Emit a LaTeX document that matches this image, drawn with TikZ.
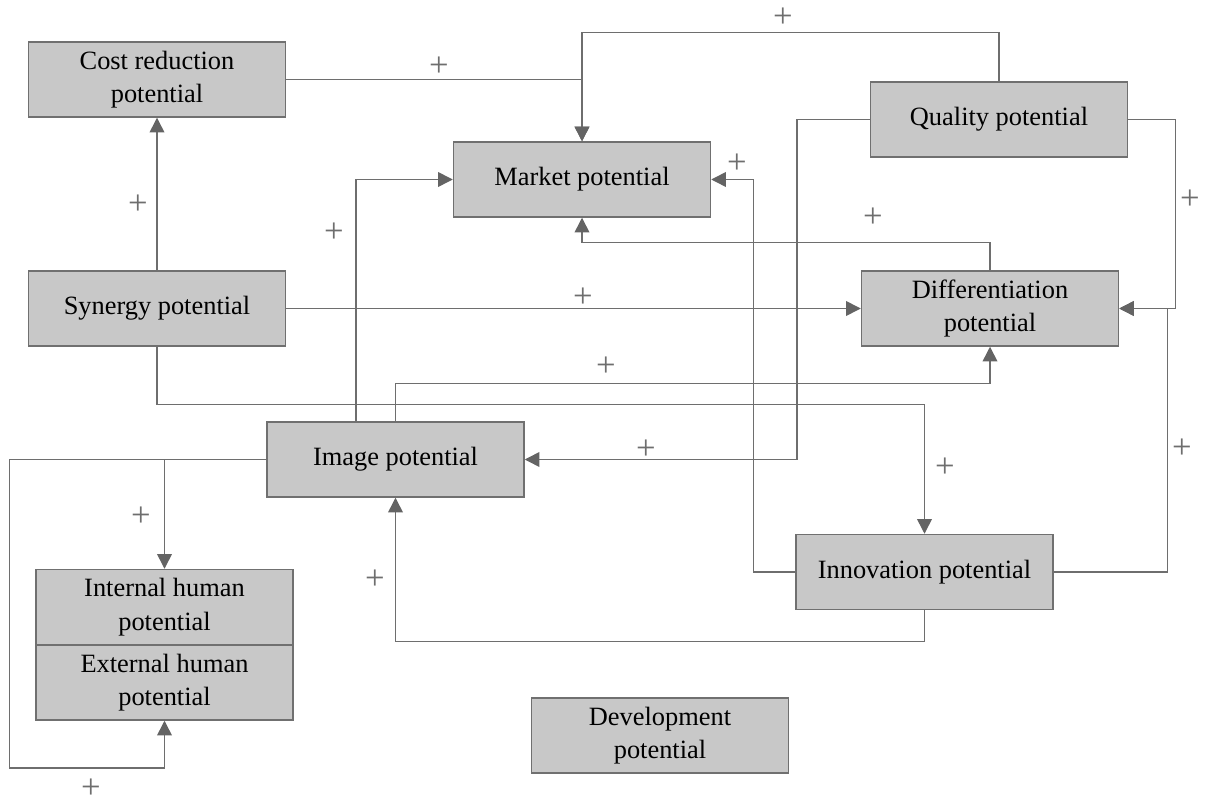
\documentclass[tikz,border=0pt]{standalone}
\usepackage{fontspec}
\setmainfont{Liberation Serif}
\usepackage{xcolor}
\usetikzlibrary{arrows.meta}
\definecolor{GrisCaja}{RGB}{200, 200, 200}
\definecolor{GrisBorde}{RGB}{112, 112, 112}
\definecolor{GrisLinea}{RGB}{110, 110, 110}
\definecolor{GrisPunta}{RGB}{100, 100, 100}

\begin{document}
\begin{tikzpicture}[x=0.75pt, y=-0.75pt,
        caja/.style={draw=GrisBorde, fill=GrisCaja, line width=1.1pt, minimum width=192.75pt, minimum height=56.25pt, inner sep=0pt, align=center, font=\fontsize{19.8}{25}\selectfont},
        flecha/.style={draw=GrisLinea, line width=1.1pt, -{Triangle[length=11pt, width=11pt, color=GrisPunta]}},
        signo/.style={text=GrisLinea, font=\fontsize{26}{26}\selectfont, inner sep=0pt}]
            \useasboundingbox (0,0) rectangle (1213,805);
            %Potenciales
            \node[caja] (cost) at (157,79.5) {Cost reduction\\potential};
            \node[caja] (market) at (582,179.5) {Market potential};
            \node[caja] (quality) at (999,119.5) {Quality potential};
            \node[caja] (synergy) at (157,308.5) {Synergy potential};
            \node[caja] (diff) at (990,308.5) {Differentiation\\potential};
            \node[caja] (image) at (395.5,459.5) {Image potential};
            \node[caja] (innov) at (924.5,572) {Innovation potential};
            \node[caja] (internal) at (164.5,607) {Internal human\\potential};
            \node[caja] (external) at (164.5,682.5) {External human\\potential};
            \node[caja] (dev) at (660,735.5) {Development\\potential};
            \draw[flecha] (cost.east) -| (market.north);
            \draw[flecha] (quality.north) -- ++(0,-49) -| (market.north);
            \draw[flecha] (quality.west) -- ++(-73,0) |- (image.east);
            \draw[flecha] (quality.east) -- ++(47,0) |- (diff.east);
            \draw[flecha] (diff.north) -- ++(0,-28) -| (market.south);
            \draw[flecha] (synergy) -- (cost);
            \draw[flecha] (synergy) -- (diff);
            \draw[flecha] (synergy.south) -- ++(0,58) -| (innov.north);
            \draw[flecha] ([xshift=-29.6pt]image.north) |- (market.west);
            \draw[flecha] (image.north) -- ++(0,-38) -| (diff.south);
            \draw[flecha] (image.west) -| (internal.north);
            \draw[flecha] (image.west) -- ++(-257,0) -- ++(0,308.5) -| (external.south);
            \draw[flecha] (innov.west) -- ++(-42,0) |- (market.east);
            \draw[flecha] (innov.east) -- ++(114,0) |- (diff.east);
            \draw[flecha] (innov.south) -- ++(0,31) -| (image.south);
            %Signos
            \node[signo] (s1) at (439,67) {+};
            \node[signo] (s2) at (783,18) {+};
            \node[signo] (s3) at (646,450) {+};
            \node[signo] (s4) at (1190,200) {+};
            \node[signo] (s5) at (873,218) {+};
            \node[signo] (s6) at (138,205) {+};
            \node[signo] (s7) at (583,298) {+};
            \node[signo] (s8) at (945,468) {+};
            \node[signo] (s9) at (334,233) {+};
            \node[signo] (s10) at (606,367) {+};
            \node[signo] (s11) at (141,517) {+};
            \node[signo] (s12) at (91,789) {+};
            \node[signo] (s13) at (737,164) {+};
            \node[signo] (s14) at (1182,449) {+};
            \node[signo] (s15) at (375,580) {+};
        \end{tikzpicture}
\end{document}
